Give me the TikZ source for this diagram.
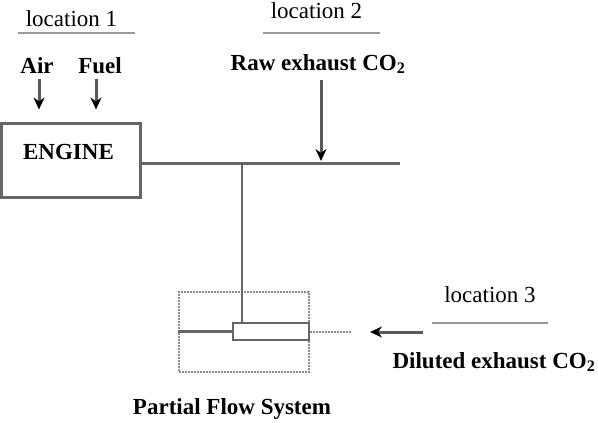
\documentclass[tikz,border=0pt]{standalone}
\usepackage{fontspec}
\setmainfont{Liberation Serif}
\usetikzlibrary{arrows.meta}
\begin{document}
\begin{tikzpicture}[x=1pt,y=-1pt,
  lbl/.style={inner sep=0pt,anchor=base,font=\fontsize{23}{27}\selectfont},
  blbl/.style={lbl,font=\fontsize{23}{27}\selectfont\bfseries},
  pipe/.style={draw=black!60,line width=3pt},
  lightbox/.style={draw=black!45,line width=2pt,densely dotted},
  uline/.style={draw=black!40,line width=2pt},
  arr/.style={draw=black!65,line width=3pt,-{Stealth[length=12pt,width=11pt,color=black]}},
  box/.style={pipe,rectangle,inner sep=0pt}]
\useasboundingbox (0,0) rectangle (598,423);
% location 1
\node[lbl] (loc1) at (71.5,27) {location 1};
\coordinate (u1a) at (18,33); \coordinate (u1b) at (135,33);
\draw[uline] (u1a) -- (u1b);
\node[blbl] (air) at (37,73) {Air};
\node[blbl] (fuel) at (100,73) {Fuel};
% engine
\node[box,minimum width=139pt,minimum height=74pt] (engine) at (70.5,160) {};
\node[blbl] (enginetext) at (68.5,159) {ENGINE};
\coordinate (airA) at (39,79);
\coordinate (fuelA) at (96,79);
\draw[arr,shorten >=12pt] (airA) -- (airA |- engine.north);
\draw[arr,shorten >=12pt] (fuelA) -- (fuelA |- engine.north);
% exhaust pipe
\coordinate (pipeend) at (400,163);
\draw[pipe] (engine.east |- pipeend) -- (pipeend);
% location 2
\node[lbl] (loc2) at (316.5,18) {location 2};
\coordinate (u2a) at (263,33); \coordinate (u2b) at (380,33);
\draw[uline] (u2a) -- (u2b);
\node[blbl] (raw) at (318,70) {Raw exhaust CO\textsubscript{2}};
\coordinate (rawtop) at (321,80);
\draw[arr,shorten >=2pt] (rawtop) -- (rawtop |- pipeend);
% partial flow system
\node[lightbox,rectangle,inner sep=0pt,minimum width=130pt,minimum height=80pt] (pfs) at (244,332) {};
\node[box,line width=2.5pt,minimum width=76pt,minimum height=17pt] (inner) at (271,331.5) {};
\coordinate (tee) at (242,163);
\draw[pipe,line width=2.5pt] (tee) -- (tee |- inner.north);
\draw[pipe,line width=2.5pt] (pfs.west |- inner.west) -- (inner.west);
\coordinate (dashend) at (352,331.5);
\draw[lightbox] (inner.east) -- (dashend);
\node[blbl] (pfstext) at (232,414) {Partial Flow System};
% location 3
\node[lbl] (loc3) at (490,302) {location 3};
\coordinate (u3a) at (432,323); \coordinate (u3b) at (548,323);
\draw[uline] (u3a) -- (u3b);
\coordinate (dilA) at (423,332); \coordinate (dilB) at (370,332);
\draw[arr] (dilA) -- (dilB);
\node[blbl] (dil) at (494,368) {Diluted exhaust CO\textsubscript{2}};
\end{tikzpicture}
\end{document}
